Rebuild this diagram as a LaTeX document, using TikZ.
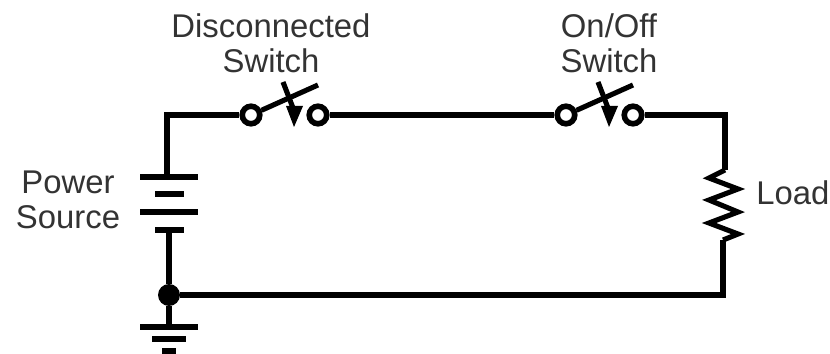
\documentclass[tikz,border=0pt]{standalone}
\usepackage{fontspec}
\setmainfont{Liberation Sans}
\tikzset{
  wire/.style={line width=2.9pt, draw=black, line cap=butt, line join=miter},
  terminal/.style={circle, draw=black, fill=white, line width=3.2pt, minimum size=0.35cm, inner sep=0pt},
  longplate/.style={rectangle, fill=black, inner sep=0pt, minimum width=1.16cm, minimum height=0.12cm},
  midplate/.style={rectangle, fill=black, inner sep=0pt, minimum width=0.68cm, minimum height=0.12cm},
  shortplate/.style={rectangle, fill=black, inner sep=0pt, minimum width=0.58cm, minimum height=0.12cm},
  tinyplate/.style={rectangle, fill=black, inner sep=0pt, minimum width=0.28cm, minimum height=0.12cm},
  junction/.style={circle, fill=black, inner sep=0pt, minimum size=0.44cm},
  lbl/.style={anchor=base, text=black!80, font=\fontsize{18.7pt}{20pt}\selectfont, inner sep=0pt}
}
\begin{document}
\begin{tikzpicture}[x=0.02cm, y=-0.02cm]
\useasboundingbox (0,0) rectangle (830,354);

% battery
\node[longplate] (batA) at (169,177) {};
\node[shortplate] (batB) at (169,194) {};
\node[longplate] (batC) at (169,212) {};
\node[shortplate] (batD) at (169,230) {};

% ground
\node[junction] (gnd) at (169,295) {};
\node[longplate] (earthA) at (169,327) {};
\node[midplate] (earthB) at (169,339) {};
\node[tinyplate] (earthC) at (169,351) {};

% switches
\node[terminal] (discL) at (251,115) {};
\node[terminal] (discR) at (318,115) {};
\node[terminal] (onoffL) at (566,115) {};
\node[terminal] (onoffR) at (633,115) {};

% corners
\coordinate (topL) at (167,115);
\coordinate (topR) at (725,115);
\coordinate (botR) at (723,295);
\coordinate (loadA) at (725,170);
\coordinate (loadB) at (723,240);

% wires
\draw[wire] (batA.north -| topL) -- (topL) -- (discL);
\draw[wire] (discR) -- (onoffL);
\draw[wire] (onoffR) -- (topR) -- (loadA);
\draw[wire] (loadA) -- (709,178) -- (738,189) -- (709,200) -- (738,212) -- (709,223) -- (738,234) -- (loadB);
\draw[wire] (loadB) -- (botR) -- (gnd);
\draw[wire] (batD) -- (gnd);
\draw[wire] (gnd) -- (earthA);

% blades and arrows
\draw[wire] (discL) -- (318,85);
\draw[wire] (283,82) -- (293,108);
\fill (286,106) -- (303,106) -- (294,127) -- cycle;
\draw[wire] (onoffL) -- (633,85);
\draw[wire] (598,82) -- (608,108);
\fill (601,106) -- (618,106) -- (609,127) -- cycle;

% labels
\node[lbl] (discText) at (271,38) {Disconnected};
\node[lbl] (discSw) at (271,73) {Switch};
\node[lbl] (onoffText) at (609,38) {On/Off};
\node[lbl] (onoffSw) at (609,73) {Switch};
\node[lbl] (powerText) at (68,194) {Power};
\node[lbl] (sourceText) at (68,229) {Source};
\node[lbl, anchor=base west] (loadText) at (756,205) {Load};
\end{tikzpicture}
\end{document}
